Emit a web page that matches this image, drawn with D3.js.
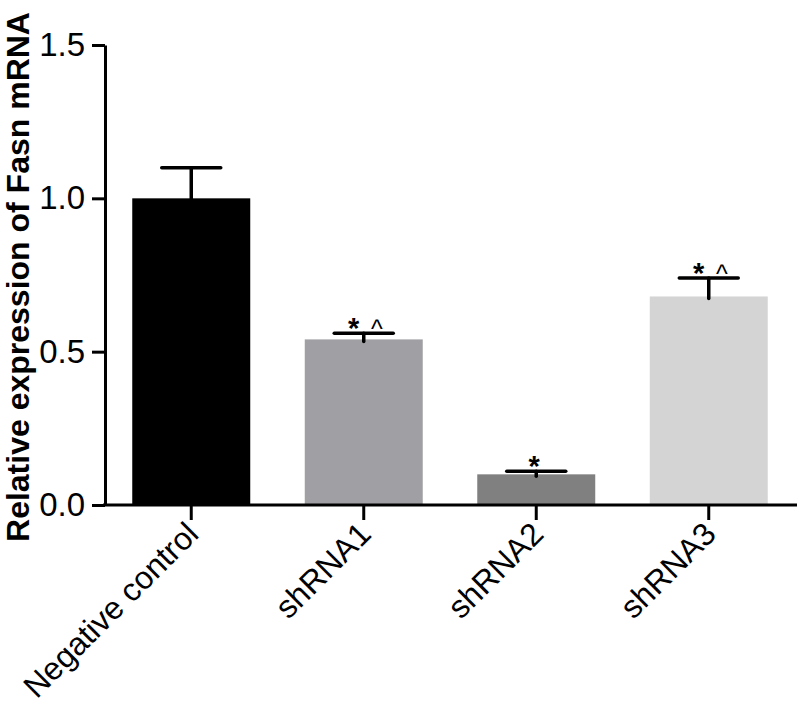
<!DOCTYPE html>
<html>
<head>
<meta charset="utf-8">
<script src="https://cdn.jsdelivr.net/npm/d3@7"></script>
<style>
  body { margin: 0; background: #fff; }
  svg text { font-family: "Liberation Sans", Arial, sans-serif; }
</style>
</head>
<body>
<div id="chart"></div>
<script>
// values
const categories = ["Negative control", "shRNA1", "shRNA2", "shRNA3"];
const means = [1.0, 0.54, 0.10, 0.68];
const errors = [0.10, 0.02, 0.01, 0.06];
const marks = ["", "* ^", "*", "* ^"];
const barColors = ["#000000", "#a0a0a4", "#808080", "#d4d4d4"];
const yTicks = [0, 0.5, 1.0, 1.5];
const yTitle = "Relative expression of Fasn mRNA";

const width = 800, height = 710;
const margin = {top: 45, right: 5, bottom: 205, left: 105};

const svg = d3.select("#chart").append("svg")
    .attr("width", width)
    .attr("height", height);

const x = d3.scaleBand()
    .domain(categories)
    .range([margin.left, width - margin.right])
    .paddingInner(0.316)
    .paddingOuter(0.158);

const y = d3.scaleLinear()
    .domain([0, 1.5])
    .range([height - margin.bottom, margin.top]);

const rows = categories.map((c, i) => ({
    name: c, mean: means[i], err: errors[i], mark: marks[i], color: barColors[i]
}));

// bars
svg.append("g").selectAll("rect")
    .data(rows)
    .join("rect")
    .attr("x", d => x(d.name))
    .attr("y", d => y(d.mean))
    .attr("width", x.bandwidth())
    .attr("height", d => y(0) - y(d.mean))
    .attr("fill", d => d.color);

// error bars (upper only)
const errG = svg.append("g")
    .attr("stroke", "#000")
    .attr("stroke-width", 3.5)
    .attr("stroke-linecap", "round");

errG.selectAll(".stem")
    .data(rows)
    .join("line")
    .attr("class", "stem")
    .attr("x1", d => x(d.name) + x.bandwidth() / 2)
    .attr("x2", d => x(d.name) + x.bandwidth() / 2)
    .attr("y1", d => y(d.mean) + 2)
    .attr("y2", d => y(d.mean + d.err));

errG.selectAll(".cap")
    .data(rows)
    .join("line")
    .attr("class", "cap")
    .attr("x1", d => x(d.name) + x.bandwidth() / 4)
    .attr("x2", d => x(d.name) + x.bandwidth() * 3 / 4)
    .attr("y1", d => y(d.mean + d.err))
    .attr("y2", d => y(d.mean + d.err));

// significance marks
const markG = svg.append("g");
rows.filter(d => d.mark).forEach(d => {
    const cx = x(d.name) + x.bandwidth() / 2;
    const cy = y(d.mean + d.err);
    const parts = d.mark.split(" ");
    const starX = parts.length === 1 ? cx - 2 : cx - 10;
    markG.append("text")
        .attr("x", starX).attr("y", cy + 5)
        .attr("text-anchor", "middle")
        .attr("font-size", 29).attr("font-weight", "bold")
        .text(parts[0]);
    if (parts.length > 1) {
        markG.append("text")
            .attr("x", cx + 13).attr("y", cy + 5)
            .attr("text-anchor", "middle")
            .attr("font-size", 25)
            .text(parts[1]);
    }
});

// y axis
const yAxis = svg.append("g")
    .attr("transform", `translate(${margin.left},0)`)
    .call(d3.axisLeft(y)
        .tickValues(yTicks)
        .tickFormat(d3.format(".1f"))
        .tickSize(13)
        .tickSizeOuter(0)
        .tickPadding(7));
yAxis.select(".domain").attr("stroke-width", 3);
yAxis.selectAll(".tick line").attr("stroke-width", 3);
yAxis.selectAll(".tick text")
    .attr("font-size", 33)
    .attr("font-family", "Liberation Sans, Arial, sans-serif")
    .attr("fill", "#000");

// x axis
const xAxis = svg.append("g")
    .attr("transform", `translate(0,${y(0)})`)
    .call(d3.axisBottom(x).tickSize(15).tickSizeOuter(0).tickFormat(""));
xAxis.select(".domain")
    .attr("d", `M${margin.left - 2},0H${width - 3}`)
    .attr("stroke-width", 3);
xAxis.selectAll(".tick line").attr("stroke-width", 3);

// rotated category labels
svg.append("g").selectAll("text")
    .data(categories)
    .join("text")
    .attr("transform", d => `translate(${x(d) + x.bandwidth() / 2 + 9},${y(0) + 31}) rotate(-45)`)
    .attr("text-anchor", "end")
    .attr("font-size", 32)
    .attr("fill", "#000")
    .text(d => d);

// y title
svg.append("text")
    .attr("transform", `translate(29,${277}) rotate(-90)`)
    .attr("text-anchor", "middle")
    .attr("font-size", 32)
    .attr("font-weight", "bold")
    .text(yTitle);
</script>
</body>
</html>
